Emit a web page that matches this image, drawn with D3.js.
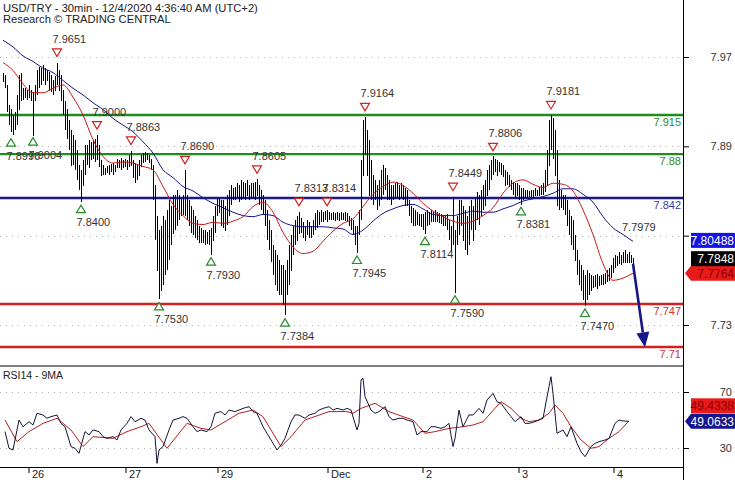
<!DOCTYPE html>
<html><head><meta charset="utf-8">
<script src="https://cdn.jsdelivr.net/npm/d3@7"></script>
<style>
html,body{margin:0;padding:0;background:#fff;}
svg{display:block;font-family:"Liberation Sans",Arial,sans-serif;}
</style></head><body>
<svg id="c" width="735" height="480"></svg>
<script>
// ---------------- DATA ----------------
const title1 = "USD/TRY - 30min - 12/4/2020 4:36:40 AM (UTC+2)";
const title2 = "Research \u00A9 TRADING CENTRAL";
const rsiTitle = "RSI14 - 9MA";

// 30-min bars (index 0..315): highs and lows
const high = [
7.956,7.954,7.945,7.927,7.923,7.918,7.921,7.936,7.954,7.956,
7.942,7.942,7.940,7.945,7.940,7.939,7.945,7.958,7.961,7.960,
7.963,7.960,7.958,7.957,7.954,7.949,7.953,7.965,7.958,7.954,
7.940,7.931,7.923,7.914,7.905,7.900,7.896,7.887,7.873,7.869,
7.878,7.891,7.891,7.896,7.894,7.896,7.897,7.900,7.891,7.878,
7.873,7.871,7.872,7.873,7.874,7.875,7.873,7.879,7.878,7.880,
7.878,7.879,7.878,7.882,7.886,7.878,7.875,7.873,7.878,7.882,
7.884,7.885,7.884,7.882,7.879,7.873,7.855,7.828,7.815,7.819,
7.828,7.824,7.833,7.842,7.837,7.846,7.846,7.851,7.846,7.844,
7.846,7.869,7.846,7.842,7.837,7.833,7.828,7.824,7.819,7.817,
7.815,7.815,7.813,7.815,7.817,7.828,7.837,7.844,7.844,7.842,
7.842,7.837,7.846,7.851,7.855,7.853,7.854,7.857,7.855,7.860,
7.858,7.857,7.860,7.855,7.857,7.857,7.858,7.861,7.855,7.851,
7.846,7.842,7.833,7.824,7.815,7.802,7.797,7.793,7.788,7.784,
7.784,7.779,7.788,7.802,7.811,7.819,7.824,7.828,7.831,7.826,
7.822,7.819,7.824,7.822,7.819,7.824,7.830,7.833,7.831,7.833,
7.831,7.832,7.833,7.831,7.830,7.831,7.830,7.831,7.830,7.831,
7.830,7.831,7.830,7.828,7.826,7.824,7.819,7.819,7.833,7.878,
7.914,7.916,7.905,7.896,7.878,7.864,7.860,7.855,7.860,7.869,
7.873,7.871,7.864,7.860,7.855,7.855,7.857,7.858,7.855,7.857,
7.855,7.853,7.851,7.842,7.837,7.835,7.833,7.831,7.829,7.829,
7.829,7.831,7.833,7.831,7.833,7.831,7.833,7.831,7.830,7.829,
7.828,7.828,7.829,7.824,7.819,7.845,7.815,7.828,7.842,7.842,
7.837,7.833,7.828,7.837,7.842,7.837,7.844,7.849,7.846,7.851,
7.855,7.860,7.869,7.873,7.878,7.881,7.879,7.878,7.876,7.875,
7.873,7.869,7.867,7.864,7.860,7.858,7.857,7.857,7.855,7.853,
7.853,7.851,7.851,7.850,7.851,7.851,7.853,7.851,7.854,7.855,
7.857,7.869,7.887,7.914,7.918,7.915,7.905,7.887,7.860,7.851,
7.846,7.846,7.842,7.833,7.828,7.824,7.811,7.797,7.788,7.784,
7.779,7.775,7.779,7.777,7.775,7.774,7.775,7.776,7.774,7.775,
7.776,7.777,7.779,7.781,7.784,7.790,7.793,7.792,7.795,7.793,
7.795,7.797,7.794,7.795,7.793,7.790];
const low = [
7.948,7.942,7.921,7.909,7.902,7.900,7.905,7.909,7.923,7.931,
7.931,7.933,7.931,7.933,7.930,7.900,7.931,7.936,7.942,7.945,
7.949,7.945,7.948,7.940,7.939,7.936,7.940,7.945,7.939,7.931,
7.918,7.905,7.896,7.887,7.873,7.873,7.869,7.860,7.851,7.840,
7.855,7.864,7.873,7.871,7.878,7.879,7.876,7.878,7.871,7.864,
7.864,7.865,7.866,7.864,7.867,7.864,7.867,7.871,7.871,7.869,
7.871,7.872,7.869,7.871,7.873,7.862,7.857,7.860,7.864,7.871,
7.875,7.876,7.878,7.875,7.869,7.842,7.806,7.779,7.753,7.761,
7.766,7.775,7.779,7.788,7.802,7.811,7.815,7.819,7.824,7.828,
7.828,7.828,7.824,7.819,7.813,7.811,7.808,7.806,7.804,7.804,
7.803,7.802,7.802,7.802,7.793,7.806,7.813,7.828,7.831,7.819,
7.817,7.815,7.819,7.828,7.837,7.842,7.842,7.844,7.840,7.842,
7.844,7.842,7.846,7.842,7.844,7.844,7.842,7.846,7.837,7.833,
7.828,7.819,7.806,7.797,7.786,7.775,7.766,7.761,7.757,7.757,
7.748,7.739,7.757,7.766,7.779,7.793,7.802,7.806,7.811,7.813,
7.808,7.806,7.811,7.808,7.808,7.811,7.815,7.817,7.819,7.822,
7.822,7.824,7.822,7.824,7.824,7.824,7.823,7.824,7.823,7.824,
7.824,7.823,7.822,7.819,7.815,7.811,7.802,7.795,7.811,7.824,
7.864,7.882,7.864,7.846,7.842,7.837,7.842,7.833,7.837,7.842,
7.846,7.851,7.842,7.842,7.837,7.842,7.844,7.844,7.842,7.844,
7.842,7.837,7.837,7.828,7.822,7.819,7.819,7.819,7.818,7.817,
7.815,7.811,7.819,7.819,7.822,7.822,7.822,7.822,7.821,7.820,
7.819,7.819,7.815,7.806,7.797,7.802,7.759,7.802,7.811,7.819,
7.806,7.797,7.793,7.802,7.815,7.806,7.815,7.824,7.819,7.828,
7.833,7.837,7.846,7.851,7.860,7.864,7.867,7.864,7.867,7.864,
7.862,7.855,7.855,7.853,7.851,7.846,7.844,7.845,7.842,7.838,
7.842,7.844,7.844,7.845,7.845,7.844,7.846,7.846,7.846,7.846,
7.846,7.849,7.855,7.873,7.887,7.878,7.864,7.837,7.833,7.835,
7.833,7.828,7.819,7.811,7.802,7.797,7.788,7.775,7.766,7.761,
7.752,7.747,7.752,7.757,7.761,7.763,7.764,7.763,7.765,7.766,
7.766,7.767,7.768,7.769,7.772,7.777,7.781,7.783,7.784,7.784,
7.785,7.785,7.786,7.785,7.786,7.784];

// moving averages sampled every 5 bars (index 0,5,...,315)
const maStep = 5;
const maFast = [7.965,7.958,7.946,7.938,7.938,7.942,7.945,7.934,7.918,7.896,
7.881,7.875,7.876,7.875,7.872,7.869,7.854,7.838,7.828,7.821,
7.820,7.822,7.821,7.823,7.827,7.836,7.840,7.831,7.813,7.800,
7.794,7.796,7.805,7.814,7.821,7.825,7.836,7.847,7.854,7.858,
7.855,7.848,7.839,7.832,7.827,7.823,7.821,7.823,7.828,7.835,
7.848,7.857,7.860,7.856,7.853,7.857,7.856,7.850,7.833,7.811,
7.785,7.770,7.772,7.7764];
const maSlow = [7.985,7.979,7.971,7.966,7.960,7.956,7.949,7.942,7.936,7.929,
7.923,7.915,7.909,7.903,7.894,7.884,7.869,7.862,7.854,7.850,
7.844,7.839,7.835,7.831,7.828,7.827,7.829,7.828,7.822,7.819,
7.818,7.818,7.818,7.817,7.816,7.811,7.815,7.823,7.830,7.834,
7.837,7.838,7.834,7.829,7.828,7.828,7.830,7.832,7.831,7.831,
7.834,7.837,7.841,7.843,7.845,7.848,7.852,7.852,7.847,7.840,
7.827,7.817,7.811,7.80488];
const maSlowLabel = "7.7979";

// support / resistance levels
const levelValues = [7.918, 7.883, 7.8437, 7.7488, 7.7103];
const levelLabels = ["7.915", "7.88", "7.842", "7.747", "7.71"];
const levelKinds  = ["res", "res", "pivot", "sup", "sup"];

// swing highs / lows [bar index, price]
const swingHighs = [[27,7.9651],[47,7.9000],[64,7.8863],[91,7.8690],[127,7.8605],[148,7.8313],[162,7.8314],[181,7.9164],[225,7.8449],[245,7.8806],[274,7.9181]];
const swingLows  = [[4,7.8996],[15,7.9004],[39,7.8400],[78,7.7530],[104,7.7930],[141,7.7384],[177,7.7945],[211,7.8114],[226,7.7590],[259,7.8381],[291,7.7470]];

// forecast arrow [bar index, price]
const forecast = [[315, 7.7848], [321, 7.71]];

// price axis (7.81 label is hidden behind the value pointer)
const priceTicks = [7.97, 7.89, 7.81, 7.73];
const priceTickLabels = ["7.97", "7.89", "", "7.73"];
const lastPrice = 7.7848, maFastLast = 7.7764, maSlowLast = 7.80488;

// date axis
const dayIdx = [13, 61.5, 107.5, 162.5, 210, 258, 305.5];
const dayLabels = ["26", "27", "29", "Dec", "2", "3", "4"];

// RSI14 [bar index, value]
const rsi = [[1,41.7],[3,29.8],[5,28.6],[8,50.0],[10,45.2],[13,48.8],[15,46.4],[17,54.8],[20,53.6],[22,51.2],
[24,52.4],[27,53.6],[29,47.6],[31,45.2],[34,31.0],[36,29.8],[38,26.2],[41,41.7],[43,39.3],[45,42.9],
[48,41.7],[50,38.1],[52,36.9],[55,38.1],[57,35.7],[59,42.9],[62,47.6],[64,52.4],[66,48.8],[69,51.2],
[71,50.0],[73,42.9],[76,38.1],[77,19.0],[78,28.6],[80,31.0],[83,42.9],[85,50.0],[88,51.2],[90,52.4],
[92,51.2],[95,45.2],[97,41.7],[99,42.9],[102,41.7],[104,45.2],[106,54.8],[109,56.0],[111,53.6],[113,57.1],
[116,56.0],[118,57.1],[120,58.3],[123,59.5],[125,56.0],[127,54.8],[130,45.2],[132,40.5],[134,35.7],[137,28.6],
[139,32.1],[141,36.9],[144,48.8],[146,53.6],[148,53.6],[151,51.2],[153,53.6],[156,54.8],[158,57.1],[160,58.3],
[163,59.5],[165,57.1],[167,58.3],[170,57.1],[172,58.3],[174,57.1],[177,42.9],[178,47.6],[179,78.6],[180,79.8],
[181,66.7],[184,57.1],[186,54.8],[188,56.0],[191,59.5],[193,52.4],[195,50.0],[198,51.2],[200,51.2],[202,50.0],
[205,48.8],[207,39.3],[209,41.7],[212,41.7],[214,45.2],[216,45.2],[219,44.0],[221,45.2],[223,47.6],[225,31.0],
[226,36.9],[228,57.1],[230,45.2],[233,53.6],[235,53.6],[238,58.3],[240,54.8],[242,64.3],[245,69.0],[247,63.1],
[249,61.9],[252,56.0],[254,52.4],[256,48.8],[259,52.4],[261,47.6],[263,47.6],[266,48.8],[268,50.0],[270,51.2],
[273,73.8],[274,80.9],[275,69.0],[277,40.5],[280,42.9],[282,38.1],[284,45.2],[287,33.3],[289,27.4],[291,23.8],
[294,31.0],[296,33.3],[298,34.5],[301,35.7],[303,36.9],[306,47.6],[308,50.0],[310,49.3],[313,49.0633]];
// RSI 9-period MA [bar index, value]
const rsiMa = [[1,50.0],[7,34.5],[13,41.7],[20,47.6],[27,51.2],[34,42.9],[40,31.0],[45,38.1],[55,36.9],[62,41.7],
[69,45.2],[73,47.6],[79,35.7],[82,29.8],[88,40.5],[92,47.6],[99,44.0],[104,42.9],[111,48.8],[118,54.8],
[125,57.1],[130,52.4],[134,42.9],[139,31.0],[144,38.1],[151,50.0],[163,56.0],[172,56.0],[175,54.8],[179,58.3],
[186,61.9],[193,56.0],[200,52.4],[205,50.0],[211,40.5],[216,41.7],[223,44.0],[230,45.2],[235,46.4],[240,48.8],
[249,63.1],[254,58.3],[259,51.2],[263,48.8],[268,50.0],[273,54.8],[276,60.7],[280,54.8],[284,45.2],[289,35.7],
[294,29.8],[298,31.0],[303,36.9],[308,41.7],[313,49.4338]];
const rsiTicks = [70, 30];

// ---------------- DRAW ----------------
const svg = d3.select("#c");
const plotR = 683;
const FONT = "Liberation Sans, Arial, sans-serif";
const x = d3.scaleLinear().domain([0, 315]).range([3, 633]);
const y = d3.scaleLinear().domain([7.73, 7.97]).range([325, 57]);
const yr = d3.scaleLinear().domain([30, 70]).range([448, 392]);

svg.append("rect").attr("width", 735).attr("height", 480).attr("fill", "#fff");

// gridlines
const g = svg.append("g");
g.selectAll(".gp").data(priceTicks).join("line")
  .attr("x1", 0).attr("x2", plotR).attr("y1", d => Math.round(y(d)) + 0.5).attr("y2", d => Math.round(y(d)) + 0.5)
  .attr("stroke", "#b0b0b0").attr("stroke-dasharray", "1,5");
g.selectAll(".gr").data(rsiTicks).join("line")
  .attr("x1", 0).attr("x2", plotR).attr("y1", d => Math.round(yr(d)) + 0.5).attr("y2", d => Math.round(yr(d)) + 0.5)
  .attr("stroke", "#b0b0b0").attr("stroke-dasharray", "1,5");

// level lines
const lvlColor = {res: "#1e8c1e", pivot: "#1a1a8c", sup: "#d42020"};
const lvlText = {res: "#2e8b2e", pivot: "#3a3aa0", sup: "#cc3333"};
levelValues.forEach((v, i) => {
  svg.append("line").attr("x1", 0).attr("x2", plotR).attr("y1", y(v)).attr("y2", y(v))
    .attr("stroke", lvlColor[levelKinds[i]]).attr("stroke-width", 2.4);
});

// price bars (crisp 1px high-low bars)
const bars = d3.range(high.length).map(i => ({i, h: high[i], l: low[i]}));
svg.append("g").attr("shape-rendering", "crispEdges").selectAll("rect").data(bars).join("rect")
  .attr("x", d => Math.round(x(d.i))).attr("width", 1)
  .attr("y", d => Math.round(y(d.h))).attr("height", d => Math.max(1, Math.round(y(d.l) - y(d.h))))
  .attr("fill", "#000");

levelValues.forEach((v, i) => {
  svg.append("text").attr("x", plotR - 2).attr("y", y(v) + 11).attr("text-anchor", "end")
    .attr("font-size", 11).attr("fill", lvlText[levelKinds[i]]).attr("font-family", FONT).text(levelLabels[i]);
});

// moving averages
const maLine = d3.line().x((d, i) => x(i * maStep)).y(d => y(d)).curve(d3.curveMonotoneX);
svg.append("path").attr("d", maLine(maSlow)).attr("fill", "none").attr("stroke", "#14148a").attr("stroke-width", 1);
svg.append("path").attr("d", maLine(maFast)).attr("fill", "none").attr("stroke", "#c81818").attr("stroke-width", 1);
svg.append("text").attr("x", x(309.5)).attr("y", y(maSlowLast) - 10).attr("font-size", 11)
  .attr("fill", "#333").attr("font-family", FONT).text(maSlowLabel);

// swing markers
const triDown = (cx, cy) => `M${cx-4.5},${cy-3.5}L${cx+4.5},${cy-3.5}L${cx},${cy+4}Z`;
const triUp = (cx, cy) => `M${cx-4.5},${cy+3.5}L${cx+4.5},${cy+3.5}L${cx},${cy-4}Z`;
swingHighs.forEach(([i, v]) => {
  const cx = x(i), cy = y(v) - 10;
  svg.append("path").attr("d", triDown(cx, cy)).attr("fill", "#fff").attr("stroke", "#cc2222").attr("stroke-width", 1.2);
  svg.append("text").attr("x", cx - 4.5).attr("y", cy - 9.5).attr("font-size", 11).attr("fill", "#333")
    .attr("font-family", FONT).text(v.toFixed(4));
});
swingLows.forEach(([i, v]) => {
  const cx = x(i), cy = y(v) + 7;
  svg.append("path").attr("d", triUp(cx, cy)).attr("fill", "#fff").attr("stroke", "#2a8a2a").attr("stroke-width", 1.2);
  svg.append("text").attr("x", cx - 4.5).attr("y", cy + 17).attr("font-size", 11).attr("fill", "#333")
    .attr("font-family", FONT).text(v.toFixed(4));
});

// forecast arrow
{
  const x0 = x(forecast[0][0]), y0 = y(forecast[0][1]);
  const x1 = x(forecast[1][0]), y1 = y(forecast[1][1]);
  const len = Math.hypot(x1 - x0, y1 - y0), ux = (x1 - x0) / len, uy = (y1 - y0) / len;
  const bx = x1 - ux * 15, by = y1 - uy * 15;
  svg.append("line").attr("x1", x0).attr("y1", y0).attr("x2", bx).attr("y2", by)
    .attr("stroke", "#16168a").attr("stroke-width", 2.6);
  svg.append("path").attr("d", `M${bx - uy * 6.5},${by + ux * 6.5}L${bx + uy * 6.5},${by - ux * 6.5}L${x1},${y1}Z`)
    .attr("fill", "#16168a");
}

// titles
svg.append("text").attr("x", 3).attr("y", 12).attr("font-size", 11.2).attr("fill", "#222").attr("font-family", FONT).text(title1);
svg.append("text").attr("x", 3).attr("y", 23).attr("font-size", 11.2).attr("fill", "#222").attr("font-family", FONT).text(title2);

// RSI panel
svg.append("line").attr("x1", 0).attr("x2", plotR).attr("y1", 366).attr("y2", 366).attr("stroke", "#000");
svg.append("line").attr("x1", 0).attr("x2", plotR).attr("y1", 467.5).attr("y2", 467.5).attr("stroke", "#000");
svg.append("text").attr("x", 3).attr("y", 379).attr("font-size", 10.5).attr("fill", "#222").attr("font-family", FONT).text(rsiTitle);
const rl = d3.line().x(d => x(d[0])).y(d => yr(d[1]));
svg.append("path").attr("d", rl(rsiMa)).attr("fill", "none").attr("stroke", "#b42020").attr("stroke-width", 1);
svg.append("path").attr("d", rl(rsi)).attr("fill", "none").attr("stroke", "#141438").attr("stroke-width", 1);

// right axes
svg.append("line").attr("x1", plotR + 0.5).attr("x2", plotR + 0.5).attr("y1", 0).attr("y2", 480).attr("stroke", "#000");
const ay = svg.append("g").attr("transform", `translate(${plotR},0)`)
  .call(d3.axisRight(y).tickValues(priceTicks).tickSize(6).tickFormat((d, i) => priceTickLabels[i]));
const ar = svg.append("g").attr("transform", `translate(${plotR},0)`)
  .call(d3.axisRight(yr).tickValues(rsiTicks).tickSize(6).tickFormat(d3.format("d")));
[ay, ar].forEach(a => {
  a.select(".domain").remove();
  a.selectAll("text").attr("text-anchor", "end").attr("x", 49).attr("font-size", 11).attr("fill", "#333").attr("font-family", FONT);
});

// date axis
const ax = svg.append("g");
dayIdx.forEach((d, k) => {
  ax.append("line").attr("x1", x(d)).attr("x2", x(d)).attr("y1", 467).attr("y2", 473).attr("stroke", "#000");
  ax.append("text").attr("x", x(d) + 3).attr("y", 478).attr("font-size", 11).attr("fill", "#222").attr("font-family", FONT).text(dayLabels[k]);
});

// value pointers
function box(cy, label, fill, txt, arrow) {
  const gx = svg.append("g");
  const left = 691, right = 735, h = 15;
  if (arrow) gx.append("path").attr("d", `M${left - 6},${cy}L${left},${cy - h/2}L${right},${cy - h/2}L${right},${cy + h/2}L${left},${cy + h/2}Z`).attr("fill", fill);
  else gx.append("rect").attr("x", left).attr("y", cy - h/2).attr("width", right - left).attr("height", h).attr("fill", fill);
  gx.append("text").attr("x", 734).attr("y", cy + 4.5).attr("text-anchor", "end").attr("font-size", 12)
    .attr("fill", txt).attr("font-family", FONT).text(label);
}
const yBlue = y(maSlowLast), yRed = y(maFastLast);
box(yBlue - 1, maSlowLast.toFixed(5), "#1414e6", "#fff", false);
box(yRed, maFastLast.toFixed(4), "#e81a1a", "#8a0000", true);
box(Math.min(y(lastPrice), yRed - 14.5), lastPrice.toFixed(4), "#000", "#fff", false);
const rsiLast = rsi[rsi.length - 1][1], rsiMaLast = rsiMa[rsiMa.length - 1][1];
box(yr(rsiLast), rsiLast.toFixed(4), "#14148c", "#fff", true);
box(yr(rsiLast) - 15.5, rsiMaLast.toFixed(4), "#e81a1a", "#8a0000", false);
</script></body></html>
